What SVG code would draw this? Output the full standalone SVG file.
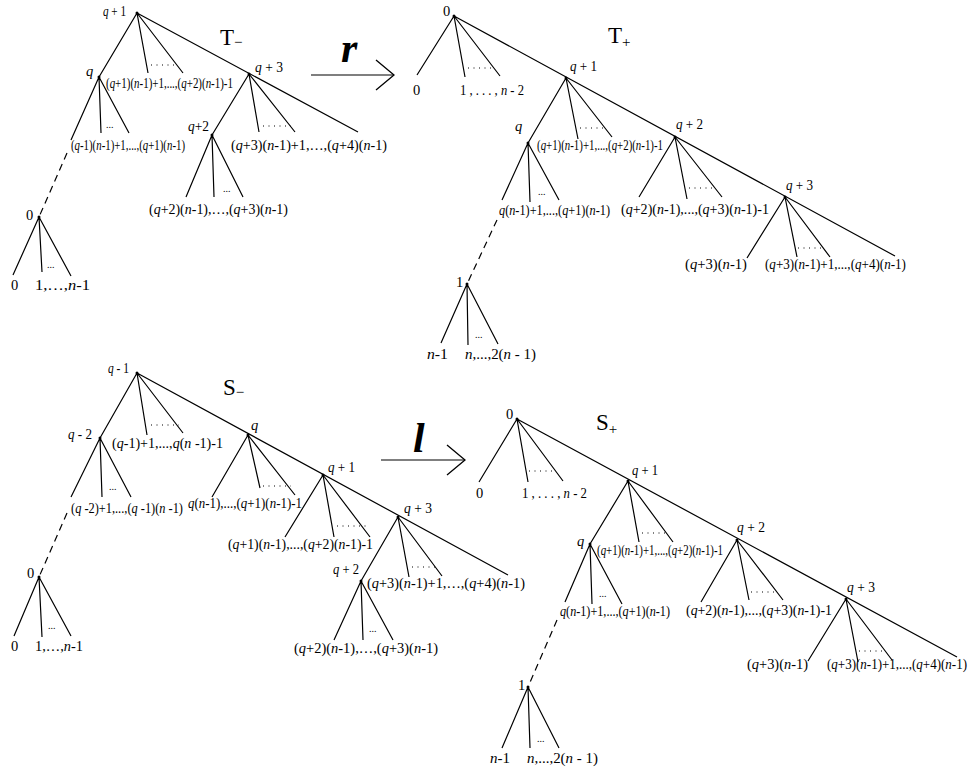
<svg xmlns="http://www.w3.org/2000/svg" width="969" height="769" viewBox="0 0 969 769">
<style>
.e{stroke:#000;stroke-width:1.2;fill:none}
.d{stroke:#000;stroke-width:1.2;stroke-dasharray:7 5;fill:none}
.o{stroke:#000;stroke-width:1.1;stroke-dasharray:1 4.5;fill:none}
text{font-family:"Liberation Serif","Times New Roman",serif;font-size:14.5px;fill:#000}
.i{font-style:italic}
.s{font-size:10px}
.big{font-size:23px}
.sub{font-size:15px}
.op{font-size:42px;font-style:italic;font-weight:bold}
.nd{fill:#000}
</style>
<defs>
<marker id="head" viewBox="0 0 20 32" refX="19" refY="16" markerWidth="20" markerHeight="32" markerUnits="userSpaceOnUse" orient="auto">
<path d="M1,1 L19,16 L1,31" fill="none" stroke="#000" stroke-width="1.3"/>
</marker>
</defs>

<g id="connectors">
<!-- T- -->
<path class="e" d="M137,13L99,77M137,13L148,73M137,13L183,73M137,13L358,132"/>
<path class="e" d="M99,77L71,140M99,77L101,133M99,77L129,133"/>
<path class="d" d="M67,153L39,217"/>
<path class="e" d="M39,217L13,275M39,217L42,272M39,217L71,276"/>
<path class="e" d="M249,74L212,135M249,74L259,132M249,74L295,132"/>
<path class="e" d="M212,135L186,197M212,135L214,197M212,135L243,197"/>
<!-- T+ -->
<path class="e" d="M454,16L417,75M454,16L465,77M454,16L500,76M454,16L895,256"/>
<path class="e" d="M566,78L528,143M566,78L578,139M566,78L612,137"/>
<path class="e" d="M528,143L502,200M528,143L530,202M528,143L559,200"/>
<path class="d" d="M497,220L467,284"/>
<path class="e" d="M467,284L441,343M467,284L468,345M467,284L498,344"/>
<path class="e" d="M675,137L639,197M675,137L687,199M675,137L722,197"/>
<path class="e" d="M785,197L747,258M785,197L797,257M785,197L830,257"/>
<!-- S- -->
<path class="e" d="M137,373L100,438M137,373L147,435M137,373L183,433M137,373L508,575"/>
<path class="e" d="M100,438L71,497M100,438L102,497M100,438L131,497"/>
<path class="d" d="M67,513L39,577"/>
<path class="e" d="M39,577L14,636M39,577L42,637M39,577L71,636"/>
<path class="e" d="M248,435L212,497M248,435L260,488M248,435L295,495"/>
<path class="e" d="M323,475L285,537M323,475L334,537M323,475L370,537"/>
<path class="e" d="M398,517L361,581M398,517L409,577M398,517L442,576"/>
<path class="e" d="M361,581L334,640M361,581L363,640M361,581L393,640"/>
<!-- S+ -->
<path class="e" d="M517,419L479,482M517,419L528,482M517,419L563,481M517,419L957,657"/>
<path class="e" d="M628,481L590,544M628,481L639,542M628,481L673,542"/>
<path class="e" d="M590,544L565,602M590,544L592,604M590,544L622,604"/>
<path class="d" d="M557,620L528,687"/>
<path class="e" d="M528,687L502,748M528,687L530,748M528,687L559,748"/>
<path class="e" d="M737,540L701,602M737,540L749,600M737,540L783,600"/>
<path class="e" d="M846,599L808,661M846,599L858,662M846,599L892,660"/>
<!-- dotted spans -->
<path class="o" d="M151,65H178M263,126H291M468,68H494M580,128H606M689,188H714M798,248H823"/>
<path class="o" d="M151,425H179M263,486H291M337,526H366M412,567H436"/>
<path class="o" d="M529,471H556M642,533H669M751,592H778M859,651H886"/>
<!-- transformation arrows -->
<path class="e" d="M311,75H394" marker-end="url(#head)"/>
<path class="e" d="M381,460H465" marker-end="url(#head)"/>
</g>

<g id="arrow-labels">
<text class="op" x="341" y="62">r</text>
<text class="op" x="413" y="452">l</text>
</g>

<!-- ===== T- ===== -->
<g id="Tminus-title"><text class="big" x="220" y="45">T<tspan class="sub" dy="2">−</tspan></text></g>
<g id="Tm-q1"><circle class="nd" cx="137" cy="13" r="1.5"/><text x="103" y="16" textLength="23" lengthAdjust="spacingAndGlyphs"><tspan class="i">q</tspan> + 1</text></g>
<g id="Tm-q"><circle class="nd" cx="99" cy="77" r="1.5"/><text class="i" x="86" y="76">q</text></g>
<g id="Tm-l1"><text x="106" y="88" textLength="127" lengthAdjust="spacingAndGlyphs">(<tspan class="i">q</tspan>+1)(<tspan class="i">n</tspan>-1)+1,...,(<tspan class="i">q</tspan>+2)(<tspan class="i">n</tspan>-1)-1</text></g>
<g id="Tm-l2"><text x="71" y="150" textLength="114" lengthAdjust="spacingAndGlyphs">(<tspan class="i">q</tspan>-1)(<tspan class="i">n</tspan>-1)+1,...,(<tspan class="i">q</tspan>+1)(<tspan class="i">n</tspan>-1)</text><text class="s" x="106" y="128">...</text></g>
<g id="Tm-0"><circle class="nd" cx="39" cy="217" r="1.5"/><text x="26" y="220">0</text></g>
<g id="Tm-l3"><text x="11" y="290">0</text><text x="35" y="290" textLength="55" lengthAdjust="spacingAndGlyphs">1,…,<tspan class="i">n</tspan>-1</text><text class="s" x="47" y="268">...</text></g>
<g id="Tm-q3"><circle class="nd" cx="249" cy="74" r="1.5"/><text x="255" y="72" textLength="28" lengthAdjust="spacingAndGlyphs"><tspan class="i">q</tspan> + 3</text></g>
<g id="Tm-q2"><circle class="nd" cx="212" cy="135" r="1.5"/><text x="188" y="131" textLength="21" lengthAdjust="spacingAndGlyphs"><tspan class="i">q</tspan>+2</text></g>
<g id="Tm-l4"><text x="231" y="150" textLength="156" lengthAdjust="spacingAndGlyphs">(<tspan class="i">q</tspan>+3)(<tspan class="i">n</tspan>-1)+1,…,(<tspan class="i">q</tspan>+4)(<tspan class="i">n</tspan>-1)</text></g>
<g id="Tm-l5"><text x="149" y="214" textLength="139" lengthAdjust="spacingAndGlyphs">(<tspan class="i">q</tspan>+2)(<tspan class="i">n</tspan>-1),…,(<tspan class="i">q</tspan>+3)(<tspan class="i">n</tspan>-1)</text><text class="s" x="223" y="192">...</text></g>

<!-- ===== T+ ===== -->
<g id="Tplus-title"><text class="big" x="608" y="43">T<tspan class="sub" dy="4">+</tspan></text></g>
<g id="Tp-0"><circle class="nd" cx="454" cy="16" r="1.5"/><text x="443" y="16">0</text></g>
<g id="Tp-l0"><text x="413" y="95">0</text><text x="460" y="95" textLength="64" lengthAdjust="spacingAndGlyphs">1 , . . . , <tspan class="i">n</tspan> - 2</text></g>
<g id="Tp-q1"><circle class="nd" cx="566" cy="78" r="1.5"/><text x="570" y="71" textLength="27" lengthAdjust="spacingAndGlyphs"><tspan class="i">q</tspan> + 1</text></g>
<g id="Tp-q"><circle class="nd" cx="528" cy="143" r="1.5"/><text class="i" x="515" y="131">q</text></g>
<g id="Tp-l1"><text x="537" y="150" textLength="126" lengthAdjust="spacingAndGlyphs">(<tspan class="i">q</tspan>+1)(<tspan class="i">n</tspan>-1)+1,...,(<tspan class="i">q</tspan>+2)(<tspan class="i">n</tspan>-1)-1</text></g>
<g id="Tp-l2"><text x="499" y="215" textLength="111" lengthAdjust="spacingAndGlyphs"><tspan class="i">q</tspan>(<tspan class="i">n</tspan>-1)+1,...,(<tspan class="i">q</tspan>+1)(<tspan class="i">n</tspan>-1)</text><text class="s" x="538" y="195">...</text></g>
<g id="Tp-1"><circle class="nd" cx="467" cy="284" r="1.5"/><text x="456" y="287">1</text></g>
<g id="Tp-l3"><text x="427" y="359" textLength="21" lengthAdjust="spacingAndGlyphs"><tspan class="i">n</tspan>-1</text><text x="465" y="359" textLength="71" lengthAdjust="spacingAndGlyphs"><tspan class="i">n</tspan>,...,2(<tspan class="i">n</tspan> - 1)</text><text class="s" x="475" y="338">...</text></g>
<g id="Tp-q2"><circle class="nd" cx="675" cy="137" r="1.5"/><text x="676" y="129" textLength="27" lengthAdjust="spacingAndGlyphs"><tspan class="i">q</tspan> + 2</text></g>
<g id="Tp-l4"><text x="621" y="214" textLength="148" lengthAdjust="spacingAndGlyphs">(<tspan class="i">q</tspan>+2)(<tspan class="i">n</tspan>-1),...,(<tspan class="i">q</tspan>+3)(<tspan class="i">n</tspan>-1)-1</text></g>
<g id="Tp-q3"><circle class="nd" cx="785" cy="197" r="1.5"/><text x="786" y="190" textLength="27" lengthAdjust="spacingAndGlyphs"><tspan class="i">q</tspan> + 3</text></g>
<g id="Tp-l5"><text x="685" y="269" textLength="62" lengthAdjust="spacingAndGlyphs">(<tspan class="i">q</tspan>+3)(<tspan class="i">n</tspan>-1)</text><text x="765" y="269" textLength="141" lengthAdjust="spacingAndGlyphs">(<tspan class="i">q</tspan>+3)(<tspan class="i">n</tspan>-1)+1,...,(<tspan class="i">q</tspan>+4)(<tspan class="i">n</tspan>-1)</text></g>

<!-- ===== S- ===== -->
<g id="Sminus-title"><text class="big" x="223" y="395">S<tspan class="sub" dy="2">−</tspan></text></g>
<g id="Sm-qm1"><circle class="nd" cx="137" cy="373" r="1.5"/><text x="108" y="373" textLength="21" lengthAdjust="spacingAndGlyphs"><tspan class="i">q</tspan> - 1</text></g>
<g id="Sm-qm2"><circle class="nd" cx="100" cy="438" r="1.5"/><text x="68" y="439" textLength="24" lengthAdjust="spacingAndGlyphs"><tspan class="i">q</tspan> - 2</text></g>
<g id="Sm-l1"><text x="112" y="448" textLength="111" lengthAdjust="spacingAndGlyphs">(<tspan class="i">q</tspan>-1)+1,...,<tspan class="i">q</tspan>(<tspan class="i">n</tspan> -1)-1</text></g>
<g id="Sm-l2"><text x="71" y="513" textLength="112" lengthAdjust="spacingAndGlyphs">(<tspan class="i">q</tspan> -2)+1,...,(<tspan class="i">q</tspan> -1)(<tspan class="i">n</tspan> -1)</text><text class="s" x="109" y="490">...</text></g>
<g id="Sm-0"><circle class="nd" cx="39" cy="577" r="1.5"/><text x="27" y="578">0</text></g>
<g id="Sm-l3"><text x="11" y="651">0</text><text x="35" y="651" textLength="48" lengthAdjust="spacingAndGlyphs">1,…,<tspan class="i">n</tspan>-1</text><text class="s" x="48" y="629">...</text></g>
<g id="Sm-q"><circle class="nd" cx="248" cy="435" r="1.5"/><text class="i" x="251" y="430">q</text></g>
<g id="Sm-l4"><text x="188" y="508" textLength="114" lengthAdjust="spacingAndGlyphs"><tspan class="i">q</tspan>(<tspan class="i">n</tspan>-1),...,(<tspan class="i">q</tspan>+1)(<tspan class="i">n</tspan>-1)-1</text></g>
<g id="Sm-q1"><circle class="nd" cx="323" cy="475" r="1.5"/><text x="328" y="472" textLength="27" lengthAdjust="spacingAndGlyphs"><tspan class="i">q</tspan> + 1</text></g>
<g id="Sm-l5"><text x="228" y="549" textLength="145" lengthAdjust="spacingAndGlyphs">(<tspan class="i">q</tspan>+1)(<tspan class="i">n</tspan>-1),...,(<tspan class="i">q</tspan>+2)(<tspan class="i">n</tspan>-1)-1</text></g>
<g id="Sm-q3"><circle class="nd" cx="398" cy="517" r="1.5"/><text x="404" y="513" textLength="28" lengthAdjust="spacingAndGlyphs"><tspan class="i">q</tspan> + 3</text></g>
<g id="Sm-q2"><circle class="nd" cx="361" cy="581" r="1.5"/><text x="333" y="574" textLength="26" lengthAdjust="spacingAndGlyphs"><tspan class="i">q</tspan> + 2</text></g>
<g id="Sm-l6"><text x="367" y="588" textLength="158" lengthAdjust="spacingAndGlyphs">(<tspan class="i">q</tspan>+3)(<tspan class="i">n</tspan>-1)+1,…,(<tspan class="i">q</tspan>+4)(<tspan class="i">n</tspan>-1)</text></g>
<g id="Sm-l7"><text x="294" y="653" textLength="144" lengthAdjust="spacingAndGlyphs">(<tspan class="i">q</tspan>+2)(<tspan class="i">n</tspan>-1),…,(<tspan class="i">q</tspan>+3)(<tspan class="i">n</tspan>-1)</text><text class="s" x="369" y="632">...</text></g>

<!-- ===== S+ ===== -->
<g id="Splus-title"><text class="big" x="596" y="430">S<tspan class="sub" dy="4">+</tspan></text></g>
<g id="Sp-0"><circle class="nd" cx="517" cy="419" r="1.5"/><text x="506" y="419">0</text></g>
<g id="Sp-l0"><text x="476" y="498">0</text><text x="522" y="498" textLength="65" lengthAdjust="spacingAndGlyphs">1 , . . . , <tspan class="i">n</tspan> - 2</text></g>
<g id="Sp-q1"><circle class="nd" cx="628" cy="481" r="1.5"/><text x="632" y="475" textLength="26" lengthAdjust="spacingAndGlyphs"><tspan class="i">q</tspan> + 1</text></g>
<g id="Sp-q"><circle class="nd" cx="590" cy="544" r="1.5"/><text class="i" x="577" y="546">q</text></g>
<g id="Sp-l1"><text x="597" y="555" textLength="126" lengthAdjust="spacingAndGlyphs">(<tspan class="i">q</tspan>+1)(<tspan class="i">n</tspan>-1)+1,...,(<tspan class="i">q</tspan>+2)(<tspan class="i">n</tspan>-1)-1</text></g>
<g id="Sp-l2"><text x="560" y="616" textLength="110" lengthAdjust="spacingAndGlyphs"><tspan class="i">q</tspan>(<tspan class="i">n</tspan>-1)+1,...,(<tspan class="i">q</tspan>+1)(<tspan class="i">n</tspan>-1)</text><text class="s" x="599" y="597">...</text></g>
<g id="Sp-1"><circle class="nd" cx="528" cy="687" r="1.5"/><text x="518" y="690">1</text></g>
<g id="Sp-l3"><text x="490" y="763" textLength="20" lengthAdjust="spacingAndGlyphs"><tspan class="i">n</tspan>-1</text><text x="527" y="763" textLength="71" lengthAdjust="spacingAndGlyphs"><tspan class="i">n</tspan>,...,2(<tspan class="i">n</tspan> - 1)</text><text class="s" x="537" y="742">...</text></g>
<g id="Sp-q2"><circle class="nd" cx="737" cy="540" r="1.5"/><text x="737" y="532" textLength="28" lengthAdjust="spacingAndGlyphs"><tspan class="i">q</tspan> + 2</text></g>
<g id="Sp-l4"><text x="686" y="615" textLength="146" lengthAdjust="spacingAndGlyphs">(<tspan class="i">q</tspan>+2)(<tspan class="i">n</tspan>-1),...,(<tspan class="i">q</tspan>+3)(<tspan class="i">n</tspan>-1)-1</text></g>
<g id="Sp-q3"><circle class="nd" cx="846" cy="599" r="1.5"/><text x="847" y="592" textLength="28" lengthAdjust="spacingAndGlyphs"><tspan class="i">q</tspan> + 3</text></g>
<g id="Sp-l5"><text x="747" y="669" textLength="61" lengthAdjust="spacingAndGlyphs">(<tspan class="i">q</tspan>+3)(<tspan class="i">n</tspan>-1)</text><text x="827" y="669" textLength="140" lengthAdjust="spacingAndGlyphs">(<tspan class="i">q</tspan>+3)(<tspan class="i">n</tspan>-1)+1,...,(<tspan class="i">q</tspan>+4)(<tspan class="i">n</tspan>-1)</text></g>
</svg>
